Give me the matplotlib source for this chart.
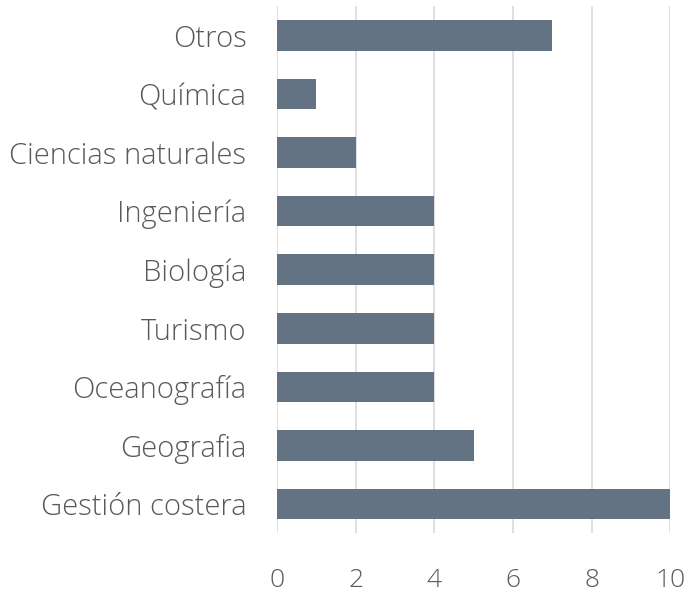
import matplotlib.pyplot as plt

categorias = ['Gestión costera', 'Geografia', 'Oceanografía', 'Turismo', 'Biología',
              'Ingeniería', 'Ciencias naturales', 'Química', 'Otros']
valores = [10, 5, 4, 4, 4, 4, 2, 1, 7]
ticks_x = [0, 2, 4, 6, 8, 10]

plt.rcParams['font.family'] = ['Open Sans', 'DejaVu Sans']
plt.rcParams['font.weight'] = 'light'

fig = plt.figure(figsize=(6.84, 5.96), dpi=100)
ax = fig.add_axes([0.405, 0.105, 0.575, 0.885])

ax.barh(range(len(categorias)), valores, height=0.52, color='#637384', zorder=3)
ax.set_yticks(range(len(categorias)))
ax.set_yticklabels(categorias)
ax.set_xticks(ticks_x)
ax.set_xlim(0, 10)
ax.set_ylim(-0.5, len(categorias) - 0.5)

ax.grid(axis='x', color='#d9d9d9', linewidth=1.2, zorder=0)
for s in ax.spines.values():
    s.set_visible(False)
ax.tick_params(axis='both', length=0, colors='#595959')
ax.tick_params(axis='x', pad=25, labelsize=19)
ax.tick_params(axis='y', pad=22, labelsize=21)

fig.savefig('out.png', dpi=100)
